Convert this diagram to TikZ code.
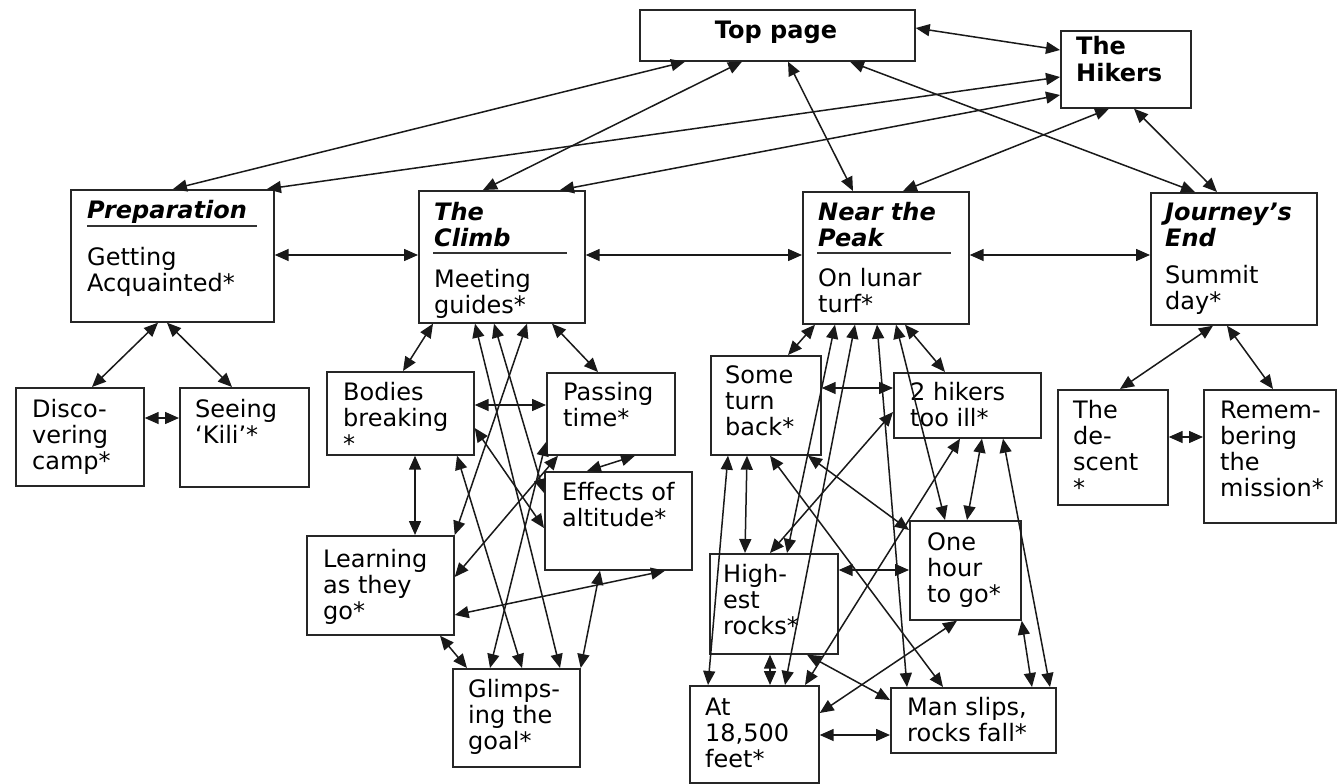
\documentclass[tikz,border=0pt]{standalone}
\usepackage{fontspec}
\setmainfont{DejaVu Sans}[BoldFont={DejaVu Sans Bold},ItalicFont={DejaVu Sans Oblique},BoldItalicFont={DejaVu Sans Bold Oblique}]
\usetikzlibrary{arrows.meta}
\newcommand\ml[1]{\begin{tabular}[t]{@{}l@{}}#1\end{tabular}}
\begin{document}
\begin{tikzpicture}[x=1pt,y=-1pt,
  box/.style={draw=black!85,line width=1.7pt,inner sep=0pt,anchor=north west},
  txt/.style={inner sep=0pt,anchor=base west,font=\fontsize{24}{26}\selectfont},
  ttl/.style={txt,font=\fontsize{24}{26}\selectfont\bfseries\itshape},
  uline/.style={line width=1.7pt,black!80},
  lnk/.style={line width=1.5pt,black!90,{Triangle[length=14pt,width=12pt]}-{Triangle[length=14pt,width=12pt]}},
]
\fill[white] (0,0) rectangle (1338,784);
\useasboundingbox (0,0) rectangle (1338,784);

% boxes
\node[box,minimum width=275pt,minimum height=51pt] (top) at (639,9) {};
\node[box,minimum width=130pt,minimum height=77pt] (hik) at (1060,30) {};
\node[box,minimum width=203pt,minimum height=132pt] (prep) at (70,189) {};
\node[box,minimum width=166pt,minimum height=132pt] (climb) at (418,190) {};
\node[box,minimum width=166pt,minimum height=132pt] (peak) at (802,191) {};
\node[box,minimum width=166pt,minimum height=132pt] (jour) at (1150,192) {};
\node[box,minimum width=128pt,minimum height=98pt] (disc) at (15,387) {};
\node[box,minimum width=129pt,minimum height=99pt] (seei) at (179,387) {};
\node[box,minimum width=147pt,minimum height=83pt] (bodi) at (326,371) {};
\node[box,minimum width=128pt,minimum height=82pt] (pass) at (546,372) {};
\node[box,minimum width=147pt,minimum height=98pt] (effe) at (544,471) {};
\node[box,minimum width=147pt,minimum height=99pt] (lear) at (306,535) {};
\node[box,minimum width=127pt,minimum height=98pt] (glim) at (452,668) {};
\node[box,minimum width=110pt,minimum height=99pt] (some) at (710,355) {};
\node[box,minimum width=147pt,minimum height=65pt] (ill) at (893,372) {};
\node[box,minimum width=128pt,minimum height=100pt] (high) at (709,553) {};
\node[box,minimum width=111pt,minimum height=99pt] (hour) at (909,520) {};
\node[box,minimum width=129pt,minimum height=97pt] (at) at (689,685) {};
\node[box,minimum width=165pt,minimum height=65pt] (man) at (890,687) {};
\node[box,minimum width=110pt,minimum height=115pt] (desc) at (1057,389) {};
\node[box,minimum width=132pt,minimum height=133pt] (reme) at (1203,389) {};

% texts
\node[txt,anchor=base,font=\fontsize{24}{26}\selectfont\bfseries] (topt) at (776,38) {Top page};
\node[txt,font=\fontsize{24}{26}\selectfont\bfseries] (hikt) at (1076,55) {\ml{The\\Hikers}};
\node[ttl] (prept) at (87,218) {Preparation};
\node[txt] (prepb) at (87,265) {\ml{Getting\\Acquainted*}};
\node[ttl] (climbt) at (434,220) {\ml{The\\Climb}};
\node[txt] (climbb) at (434,287) {\ml{Meeting\\guides*}};
\node[ttl] (peakt) at (818,220) {\ml{Near the\\Peak}};
\node[txt] (peakb) at (818,286) {\ml{On lunar\\turf*}};
\node[ttl] (jourt) at (1165,220) {\ml{Journey’s\\End}};
\node[txt] (jourb) at (1165,283) {\ml{Summit\\day*}};
\node[txt] (disct) at (32,417) {\ml{Disco-\\vering\\camp*}};
\node[txt] (seeit) at (195,417) {\ml{Seeing\\‘Kili’*}};
\node[txt] (bodit) at (343,400) {\ml{Bodies\\breaking\\{*}}};
\node[txt] (passt) at (563,400) {\ml{Passing\\time*}};
\node[txt] (effet) at (562,500) {\ml{Effects of\\altitude*}};
\node[txt] (leart) at (323,567) {\ml{Learning\\as they\\go*}};
\node[txt] (glimt) at (468,697) {\ml{Glimps-\\ing the\\goal*}};
\node[txt] (somet) at (725,383) {\ml{Some\\turn\\back*}};
\node[txt] (illt) at (910,400) {\ml{2 hikers\\too ill*}};
\node[txt] (hight) at (723,582) {\ml{High-\\est\\rocks*}};
\node[txt] (hourt) at (927,550) {\ml{One\\hour\\to go*}};
\node[txt] (att) at (705,715) {\ml{At\\18,500\\feet*}};
\node[txt] (mant) at (907,715) {\ml{Man slips,\\rocks fall*}};
\node[txt] (desct) at (1073,418) {\ml{The\\de-\\scent\\{*}}};
\node[txt] (remet) at (1220,418) {\ml{Remem-\\bering\\the\\mission*}};

% title underlines
\draw[uline] (87,226) -- (257,226);
\draw[uline] (433,253) -- (567,253);
\draw[uline] (817,253) -- (951,253);

% top level links
\draw[lnk] (top.east |- 0,28) -- (hik.west |- 0,50);
\draw[lnk] (top.south -| 685,0) -- (prep.north -| 173,0);
\draw[lnk] (top.south -| 742,0) -- (climb.north -| 483,0);
\draw[lnk] (top.south -| 788,0) -- (peak.north -| 853,0);
\draw[lnk] (top.south -| 850,0) -- (jour.north -| 1195,0);
\draw[lnk] (hik.west |- 0,77) -- (prep.north -| 267,0);
\draw[lnk] (hik.west |- 0,95) -- (climb.north -| 560,0);
\draw[lnk] (hik.south -| 1109,0) -- (peak.north -| 903,0);
\draw[lnk] (hik.south -| 1134,0) -- (jour.north -| 1217,0);
\draw[lnk] (prep.east |- 0,255) -- (climb.west |- 0,255);
\draw[lnk] (climb.east |- 0,255) -- (peak.west |- 0,255);
\draw[lnk] (peak.east |- 0,255) -- (jour.west |- 0,255);

% preparation
\draw[lnk] (prep.south -| 158,0) -- (disc.north -| 92,0);
\draw[lnk] (prep.south -| 167,0) -- (seei.north -| 232,0);
\draw[lnk] (disc.east |- 0,418) -- (seei.west |- 0,418);

% journey's end
\draw[lnk] (jour.south -| 1213,0) -- (desc.north -| 1120,0);
\draw[lnk] (jour.south -| 1227,0) -- (reme.north -| 1273,0);
\draw[lnk] (desc.east |- 0,437) -- (reme.west |- 0,437);

% the climb
\draw[lnk] (climb.south -| 433,0) -- (bodi.north -| 403,0);
\draw[lnk] (climb.south -| 552,0) -- (pass.north -| 598,0);
\draw[lnk] (bodi.east |- 0,405) -- (pass.west |- 0,405);
\draw[lnk] (climb.south -| 475,0) -- (glim.north -| 560,0);
\draw[lnk] (climb.south -| 494,0) -- (effe.west |- 0,493);
\draw[lnk] (climb.south -| 527,0) -- (lear.north east);
\draw[lnk] (bodi.south -| 415,0) -- (lear.north -| 415,0);
\draw[lnk] (bodi.south -| 457,0) -- (glim.north -| 522,0);
\draw[lnk] (bodi.east |- 0,428) -- (effe.west |- 0,528);
\draw[lnk] (pass.west |- 0,442) -- (glim.north -| 490,0);
\draw[lnk] (pass.south -| 558,0) -- (lear.east |- 0,577);
\draw[lnk] (pass.south -| 635,0) -- (effe.north -| 587,0);
\draw[lnk] (lear.east |- 0,615) -- (effe.south -| 665,0);
\draw[lnk] (effe.south -| 600,0) -- (glim.north east);
\draw[lnk] (lear.south -| 440,0) -- (glim.north -| 467,0);

% near the peak
\draw[lnk] (peak.south -| 815,0) -- (some.north -| 788,0);
\draw[lnk] (peak.south -| 905,0) -- (ill.north -| 945,0);
\draw[lnk] (some.east |- 0,388) -- (ill.west |- 0,388);
\draw[lnk] (peak.south -| 835,0) -- (high.north -| 787,0);
\draw[lnk] (peak.south -| 855,0) -- (at.north -| 785,0);
\draw[lnk] (peak.south -| 877,0) -- (man.north -| 907,0);
\draw[lnk] (peak.south -| 896,0) -- (hour.north -| 945,0);
\draw[lnk] (some.south -| 728,0) -- (at.north -| 708,0);
\draw[lnk] (some.south -| 747,0) -- (high.north -| 745,0);
\draw[lnk] (some.south -| 770,0) -- (man.north -| 943,0);
\draw[lnk] (some.south -| 808,0) -- (hour.west |- 0,530);
\draw[lnk] (ill.west |- 0,412) -- (high.north -| 770,0);
\draw[lnk] (ill.south -| 960,0) -- (at.north -| 805,0);
\draw[lnk] (ill.south -| 982,0) -- (hour.north -| 967,0);
\draw[lnk] (ill.south -| 1003,0) -- (man.north -| 1050,0);
\draw[lnk] (high.east |- 0,570) -- (hour.west |- 0,570);
\draw[lnk] (high.south -| 770,0) -- (at.north -| 770,0);
\draw[lnk] (high.south -| 807,0) -- (man.west |- 0,700);
\draw[lnk] (hour.south -| 957,0) -- (at.east |- 0,713);
\draw[lnk] (hour.south east) -- (man.north -| 1032,0);
\draw[lnk] (at.east |- 0,735) -- (man.west |- 0,735);
\end{tikzpicture}
\end{document}
